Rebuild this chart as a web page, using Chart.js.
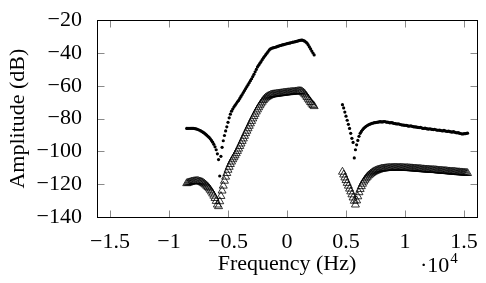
<!DOCTYPE html>
<html>
<head>
<meta charset="utf-8">
<script src="https://cdn.jsdelivr.net/npm/chart.js@4.4.0/dist/chart.umd.min.js"></script>
<style>
  html, body { margin: 0; padding: 0; background: #fff; }
  canvas { display: block; }
</style>
</head>
<body>
<canvas id="spectrum" width="486" height="283"></canvas>
<script>
// frequency bins in Hz, 100 Hz apart
const freqLeft = [
  -8500, -8400, -8300, -8200, -8100, -8000, -7900, -7800, -7700, -7600,
  -7500, -7400, -7300, -7200, -7100, -7000, -6900, -6800, -6700, -6600,
  -6500, -6400, -6300, -6200, -6100, -6000, -5900, -5800, -5700, -5600,
  -5500, -5400, -5300, -5200, -5100, -5000, -4900, -4800, -4700, -4600,
  -4500, -4400, -4300, -4200, -4100, -4000, -3900, -3800, -3700, -3600,
  -3500, -3400, -3300, -3200, -3100, -3000, -2900, -2800, -2700, -2600,
  -2500, -2400, -2300, -2200, -2100, -2000, -1900, -1800, -1700, -1600,
  -1500, -1400, -1300, -1200, -1100, -1000, -900, -800, -700, -600,
  -500, -400, -300, -200, -100, 0, 100, 200, 300, 400,
  500, 600, 700, 800, 900, 1000, 1100, 1200, 1300, 1400,
  1500, 1600, 1700, 1800, 1900, 2000, 2100, 2200, 2300];
const dotsLeft = [
  -86.0, -86.0, -85.9, -85.9, -85.9, -85.9, -86.0, -86.1, -86.3, -86.5,
  -86.8, -87.1, -87.5, -87.9, -88.4, -88.9, -89.5, -90.1, -90.8, -91.5,
  -92.3, -93.3, -94.4, -95.7, -97.2, -99.0, -101.5, -105.0, -115.0, -103.0,
  -97.5, -93.5, -90.3, -87.5, -85.0, -82.3, -79.5, -77.3, -75.5, -74.2,
  -73.0, -71.9, -70.8, -69.8, -68.9, -67.7, -66.5, -65.3, -64.1, -62.9,
  -61.7, -60.5, -59.3, -58.1, -56.9, -55.7, -54.4, -53.0, -51.5, -50.0,
  -48.5, -47.4, -46.3, -45.2, -44.1, -43.0, -42.0, -41.0, -40.1, -39.1,
  -38.1, -37.5, -37.1, -36.9, -36.7, -36.5, -36.3, -36.0, -35.8, -35.5,
  -35.3, -35.1, -34.9, -34.7, -34.5, -34.3, -34.1, -34.0, -33.8, -33.6,
  -33.4, -33.3, -33.1, -32.9, -32.7, -32.5, -32.3, -32.2, -32.2, -32.4,
  -32.8, -33.3, -34.0, -35.1, -36.3, -37.5, -38.8, -40.0, -41.2];
const triLeft = [
  -119.5, -119.2, -119.0, -118.8, -118.6, -118.4, -118.3, -118.2, -118.1, -118.1,
  -118.2, -118.4, -118.6, -118.9, -119.3, -119.8, -120.4, -121.1, -121.8, -122.6,
  -123.5, -124.6, -125.8, -127.1, -128.5, -130.3, -132.5, -133.5, -130.5, -127.3,
  -124.0, -121.0, -118.0, -115.5, -113.3, -111.3, -109.5, -107.8, -106.3, -104.9,
  -103.7, -102.5, -101.2, -99.8, -98.4, -96.8, -95.3, -93.7, -92.2, -90.6,
  -89.0, -87.5, -86.0, -84.5, -83.0, -81.5, -80.0, -78.6, -77.2, -75.8,
  -74.5, -73.2, -72.0, -70.9, -69.8, -68.8, -68.0, -67.3, -66.8, -66.4,
  -66.0, -65.7, -65.5, -65.3, -65.2, -65.1, -65.0, -64.9, -64.8, -64.7,
  -64.6, -64.5, -64.4, -64.3, -64.2, -64.1, -64.0, -64.0, -63.9, -63.8,
  -63.7, -63.7, -63.6, -63.5, -63.4, -63.3, -63.3, -63.4, -63.8, -64.3,
  -65.0, -66.0, -67.0, -68.0, -69.0, -70.0, -71.0, -71.8, -72.5];

const freqRight = [
  4700, 4800, 4900, 5000, 5100, 5200, 5300, 5400, 5500, 5600,
  5700, 5800, 5900, 6000, 6100, 6200, 6300, 6400, 6500, 6600,
  6700, 6800, 6900, 7000, 7100, 7200, 7300, 7400, 7500, 7600,
  7700, 7800, 7900, 8000, 8100, 8200, 8300, 8400, 8500, 8600,
  8700, 8800, 8900, 9000, 9100, 9200, 9300, 9400, 9500, 9600,
  9700, 9800, 9900, 10000, 10100, 10200, 10300, 10400, 10500, 10600,
  10700, 10800, 10900, 11000, 11100, 11200, 11300, 11400, 11500, 11600,
  11700, 11800, 11900, 12000, 12100, 12200, 12300, 12400, 12500, 12600,
  12700, 12800, 12900, 13000, 13100, 13200, 13300, 13400, 13500, 13600,
  13700, 13800, 13900, 14000, 14100, 14200, 14300, 14400, 14500, 14600,
  14700, 14800, 14900, 15000, 15100, 15200, 15300];
const dotsRight = [
  -71.5, -73.5, -76.0, -78.5, -81.0, -83.5, -86.0, -89.0, -92.0, -94.5,
  -104.0, -99.0, -96.0, -93.3, -90.8, -89.0, -87.8, -86.8, -86.0, -85.3,
  -84.7, -84.2, -83.8, -83.5, -83.2, -82.9, -82.7, -82.5, -82.4, -82.3,
  -82.2, -82.0, -81.9, -82.0, -82.0, -81.8, -81.8, -82.1, -82.2, -82.3,
  -82.6, -82.5, -82.5, -82.8, -83.0, -83.1, -83.3, -83.2, -83.3, -83.6,
  -83.8, -83.9, -84.0, -84.1, -84.1, -84.3, -84.6, -84.5, -84.4, -84.7,
  -84.9, -85.1, -85.0, -85.2, -85.4, -85.5, -85.3, -85.6, -85.9, -86.0,
  -85.8, -86.1, -86.3, -86.4, -86.2, -86.4, -86.6, -86.7, -86.5, -86.8,
  -87.0, -87.1, -87.0, -87.2, -87.4, -87.5, -87.2, -87.5, -87.7, -87.8,
  -87.6, -87.9, -88.1, -88.2, -88.0, -88.3, -88.5, -88.7, -88.6, -88.9,
  -89.1, -89.3, -89.4, -89.2, -89.2, -89.0, -88.9];
const triRight = [
  -112.5, -114.2, -116.0, -117.6, -119.3, -121.0, -122.8, -124.5, -126.3, -128.2,
  -130.2, -132.5, -130.0, -127.5, -125.0, -123.0, -121.3, -119.8, -118.5, -117.4,
  -116.5, -115.6, -114.8, -114.2, -113.6, -113.1, -112.6, -112.2, -111.9, -111.6,
  -111.3, -111.1, -110.9, -110.7, -110.6, -110.5, -110.4, -110.3, -110.2, -110.2,
  -110.1, -110.1, -110.0, -110.0, -110.0, -110.0, -110.0, -110.0, -110.0, -110.0,
  -110.1, -110.1, -110.1, -110.2, -110.2, -110.2, -110.3, -110.3, -110.4, -110.4,
  -110.5, -110.5, -110.6, -110.6, -110.7, -110.7, -110.8, -110.9, -111.0, -111.0,
  -111.1, -111.1, -111.2, -111.2, -111.3, -111.3, -111.4, -111.4, -111.5, -111.5,
  -111.6, -111.7, -111.8, -111.8, -111.9, -111.9, -112.0, -112.0, -112.1, -112.2,
  -112.3, -112.3, -112.4, -112.4, -112.5, -112.5, -112.6, -112.7, -112.8, -112.8,
  -112.9, -112.9, -113.0, -113.0, -113.1, -113.2, -113.3];

const xTicks = [-15000, -10000, -5000, 0, 5000, 10000, 15000];
const yTicks = [-140, -120, -100, -80, -60, -40, -20];

const FONT = { family: "'Liberation Serif', 'Times New Roman', serif", size: 22 };

function pairs(xs, ys) {
  return xs.map((x, i) => ({ x: x, y: ys[i] }));
}

function fmt(v) {
  return (v < 0 ? '\u2212' : '') + Math.abs(v);
}

// box around the plot + pgfplots style inward ticks, and the x10^4 note
const frame = {
  id: 'frame',
  afterDatasetsDraw(chart) {
    const { ctx, chartArea: a } = chart;
    const xs = chart.scales.x, ys = chart.scales.y;
    const L = Math.round(a.left) + 0.5, R = Math.round(a.right) + 0.5;
    const T = Math.round(a.top) + 0.5, B = Math.round(a.bottom) + 0.5;
    const len = 7;
    ctx.save();
    ctx.strokeStyle = '#8a8a8a';
    ctx.lineWidth = 1;
    ctx.beginPath();
    xTicks.forEach(v => {
      const px = Math.round(xs.getPixelForValue(v)) + 0.5;
      ctx.moveTo(px, B); ctx.lineTo(px, B - len);
      ctx.moveTo(px, T); ctx.lineTo(px, T + len);
    });
    yTicks.forEach(v => {
      const py = Math.round(ys.getPixelForValue(v)) + 0.5;
      ctx.moveTo(L, py); ctx.lineTo(L + len, py);
      ctx.moveTo(R, py); ctx.lineTo(R - len, py);
    });
    ctx.stroke();
    ctx.strokeStyle = '#000';
    ctx.strokeRect(L, T, R - L, B - T);

    ctx.fillStyle = '#000';
    ctx.textBaseline = 'alphabetic';
    ctx.textAlign = 'left';
    ctx.font = '22px ' + FONT.family;
    ctx.fillText('\u00b710', 420, 272);
    const w = ctx.measureText('\u00b710').width;
    ctx.font = '15px ' + FONT.family;
    ctx.fillText('4', 420 + w + 1, 263);
    ctx.restore();
  }
};

new Chart(document.getElementById('spectrum'), {
  type: 'scatter',
  data: {
    datasets: [{
      label: 'dots',
      data: pairs(freqLeft, dotsLeft).concat(pairs(freqRight, dotsRight)),
      pointStyle: 'circle',
      pointRadius: 1.6,
      backgroundColor: '#000',
      borderWidth: 0
    }, {
      label: 'triangles',
      data: pairs(freqLeft, triLeft).concat(pairs(freqRight, triRight)),
      pointStyle: 'triangle',
      pointRadius: 4.6,
      backgroundColor: 'rgba(0,0,0,0)',
      borderColor: '#000',
      borderWidth: 0.8
    }]
  },
  options: {
    responsive: false,
    animation: false,
    layout: { padding: { top: 15, right: 9, left: 0, bottom: 0 } },
    plugins: { legend: { display: false }, tooltip: { enabled: false } },
    scales: {
      x: {
        type: 'linear',
        min: -16100,
        max: 16100,
        afterFit(s) { s.height = 66; },
        afterBuildTicks(s) { s.ticks = xTicks.map(v => ({ value: v })); },
        grid: { display: false },
        border: { display: false },
        ticks: {
          color: '#000',
          font: FONT,
          padding: 4,
          maxRotation: 0,
          callback: v => fmt(v / 10000)
        },
        title: { display: true, text: 'Frequency (Hz)', color: '#000', font: FONT, padding: { top: 0, bottom: 6 } }
      },
      y: {
        min: -140,
        max: -20,
        afterFit(s) { s.width = 97; },
        afterBuildTicks(s) { s.ticks = yTicks.map(v => ({ value: v })); },
        grid: { display: false },
        border: { display: false },
        ticks: {
          color: '#000',
          font: FONT,
          padding: 7,
          callback: v => fmt(v)
        },
        title: { display: true, text: 'Amplitude (dB)', color: '#000', font: FONT, padding: { top: 5, bottom: 0 } }
      }
    }
  },
  plugins: [frame]
});
</script>
</body>
</html>
